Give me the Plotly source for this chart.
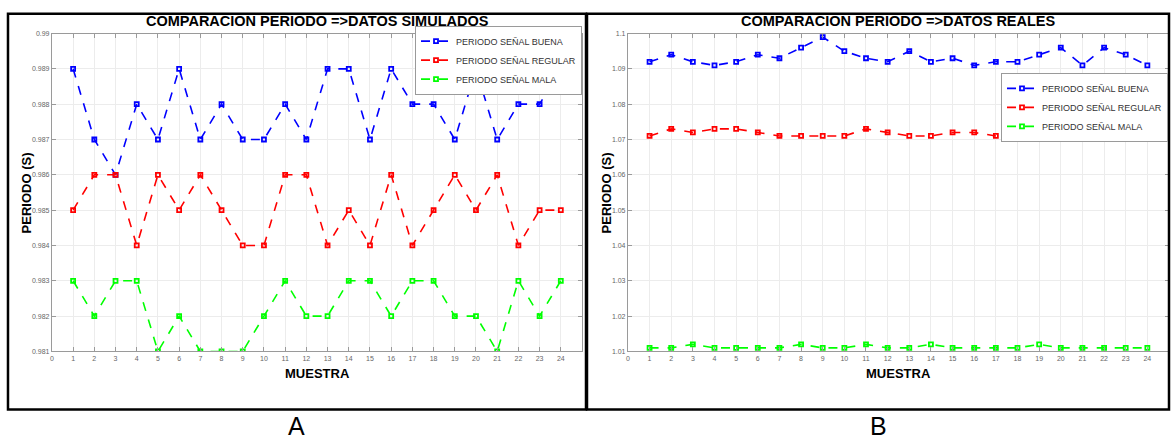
import plotly.graph_objects as go

muestras = list(range(1, 25))

sim_buena = [0.989, 0.987, 0.986, 0.988, 0.987, 0.989, 0.987, 0.988, 0.987, 0.987, 0.988, 0.987,
             0.989, 0.989, 0.987, 0.989, 0.988, 0.988, 0.987, 0.989, 0.987, 0.988, 0.988, 0.989]
sim_regular = [0.985, 0.986, 0.986, 0.984, 0.986, 0.985, 0.986, 0.985, 0.984, 0.984, 0.986, 0.986,
               0.984, 0.985, 0.984, 0.986, 0.984, 0.985, 0.986, 0.985, 0.986, 0.984, 0.985, 0.985]
sim_mala = [0.983, 0.982, 0.983, 0.983, 0.981, 0.982, 0.981, 0.981, 0.981, 0.982, 0.983, 0.982,
            0.982, 0.983, 0.983, 0.982, 0.983, 0.983, 0.982, 0.982, 0.981, 0.983, 0.982, 0.983]

real_buena = [1.092, 1.094, 1.092, 1.091, 1.092, 1.094, 1.093, 1.096, 1.099, 1.095, 1.093, 1.092,
              1.095, 1.092, 1.093, 1.091, 1.092, 1.092, 1.094, 1.096, 1.091, 1.096, 1.094, 1.091]
real_regular = [1.071, 1.073, 1.072, 1.073, 1.073, 1.072, 1.071, 1.071, 1.071, 1.071, 1.073, 1.072,
                1.071, 1.071, 1.072, 1.072, 1.071, 1.071, 1.071, 1.072, 1.071, 1.072, 1.071, 1.071]
real_mala = [1.011, 1.011, 1.012, 1.011, 1.011, 1.011, 1.011, 1.012, 1.011, 1.011, 1.012, 1.011,
             1.011, 1.012, 1.011, 1.011, 1.011, 1.011, 1.012, 1.011, 1.011, 1.011, 1.011, 1.011]

names = ["PERIODO SEÑAL BUENA", "PERIODO SEÑAL REGULAR", "PERIODO SEÑAL MALA"]
colors = ["#0000ff", "#ff0000", "#00ff00"]

sim_ticks = [0.981, 0.982, 0.983, 0.984, 0.985, 0.986, 0.987, 0.988, 0.989, 0.99]
sim_ticklabels = ["0.981", "0.982", "0.983", "0.984", "0.985", "0.986", "0.987", "0.988", "0.989", "0.99"]
real_ticks = [1.01, 1.02, 1.03, 1.04, 1.05, 1.06, 1.07, 1.08, 1.09, 1.1]
real_ticklabels = ["1.01", "1.02", "1.03", "1.04", "1.05", "1.06", "1.07", "1.08", "1.09", "1.1"]
x_ticks = list(range(0, 25))

titles = ["COMPARACION PERIODO =>DATOS SIMULADOS", "COMPARACION PERIODO =>DATOS REALES"]
panel_letters = ["A", "B"]

W, H = 1171, 443
def px(x):
    return x / W
def py(y):
    return 1 - y / H

fig = go.Figure()

for series, xa, ya, leg in [((sim_buena, sim_regular, sim_mala), "x", "y", "legend"),
                            ((real_buena, real_regular, real_mala), "x2", "y2", "legend2")]:
    for vals, name, col in zip(series, names, colors):
        fig.add_trace(go.Scatter(
            x=muestras, y=vals, name=name, mode="lines+markers",
            line=dict(color=col, width=1.6, dash="dash"),
            marker=dict(symbol="square-open", size=4, color=col, line=dict(width=1.8, color=col)),
            xaxis=xa, yaxis=ya, legend=leg,
        ))

font_axis = dict(family="Liberation Sans, Arial, sans-serif", size=7, color="#666666")
common_x = dict(range=[0, 25], tickmode="array", tickvals=x_ticks, showgrid=True,
                gridcolor="#ececec", gridwidth=1, showline=True, linecolor="#9a9a9a", linewidth=1,
                mirror="ticks", ticks="inside", ticklen=4, tickcolor="#9a9a9a",
                tickfont=font_axis, zeroline=False, fixedrange=True)
common_y = dict(showgrid=True, gridcolor="#ececec", gridwidth=1, showline=True,
                linecolor="#9a9a9a", linewidth=1, mirror="ticks", ticks="inside", ticklen=4,
                tickcolor="#9a9a9a", tickfont=font_axis, zeroline=False, fixedrange=True)

top, bottom = py(30), py(353)

legend_font = dict(family="Liberation Sans, Arial, sans-serif", size=9, color="#333333")
fig.update_layout(
    width=W, height=H,
    margin=dict(l=0, r=0, t=0, b=0),
    paper_bgcolor="white", plot_bgcolor="white",
    xaxis=dict(domain=[px(50), px(581)], anchor="y", **common_x),
    yaxis=dict(domain=[bottom, top], anchor="x", range=[0.981, 0.99], tickmode="array",
               tickvals=sim_ticks, ticktext=sim_ticklabels, **common_y),
    xaxis2=dict(domain=[px(627), px(1169)], anchor="y2", **common_x),
    yaxis2=dict(domain=[bottom, top], anchor="x2", range=[1.01, 1.1], tickmode="array",
                tickvals=real_ticks, ticktext=real_ticklabels, **common_y),
    legend=dict(x=px(581), y=py(22), xanchor="right", yanchor="top",
                bgcolor="white", bordercolor="#9a9a9a", borderwidth=1,
                font=legend_font, tracegroupgap=0, itemwidth=30),
    legend2=dict(x=px(1168), y=py(70), xanchor="right", yanchor="top",
                 bgcolor="white", bordercolor="#9a9a9a", borderwidth=1,
                 font=legend_font, tracegroupgap=0, itemwidth=30),
    showlegend=True,
)

title_font = dict(family="Liberation Sans, Arial, sans-serif", size=14.5, color="black")
label_font = dict(family="Liberation Sans, Arial, sans-serif", size=13, color="black")
annotations = []
for i, (t, cx_px, letter, lx) in enumerate(zip(titles, [316, 898], panel_letters, [295, 878])):
    annotations.append(dict(text="<b>" + t + "</b>", x=px(cx_px), y=py(17), xref="paper", yref="paper",
                            showarrow=False, font=title_font, xanchor="center", yanchor="middle"))
    annotations.append(dict(text=letter, x=px(lx), y=py(429), xref="paper", yref="paper",
                            showarrow=False, font=dict(family="Liberation Sans, Arial, sans-serif", size=25, color="black"),
                            xanchor="center", yanchor="middle"))
for ylx, xcx in [(25, 316), (606, 898)]:
    annotations.append(dict(text="<b>PERIODO (S)</b>", x=px(ylx), y=(top + bottom) / 2, xref="paper", yref="paper",
                            showarrow=False, font=label_font, textangle=-90, xanchor="center", yanchor="middle"))
    annotations.append(dict(text="<b>MUESTRA</b>", x=px(xcx), y=py(375), xref="paper", yref="paper",
                            showarrow=False, font=label_font, xanchor="center", yanchor="middle"))
fig.update_layout(annotations=annotations)

shapes = []
for x0, x1 in [(6, 585), (586, 1169)]:
    shapes.append(dict(type="rect", xref="paper", yref="paper", x0=px(x0), x1=px(x1), y0=py(412), y1=py(10),
                       line=dict(color="black", width=2.5), fillcolor="rgba(0,0,0,0)", layer="above"))
fig.update_layout(shapes=shapes)

fig.write_html("out.html", config={"displayModeBar": False},
               post_script="document.body.style.margin='0px';document.body.style.overflow='hidden';")
